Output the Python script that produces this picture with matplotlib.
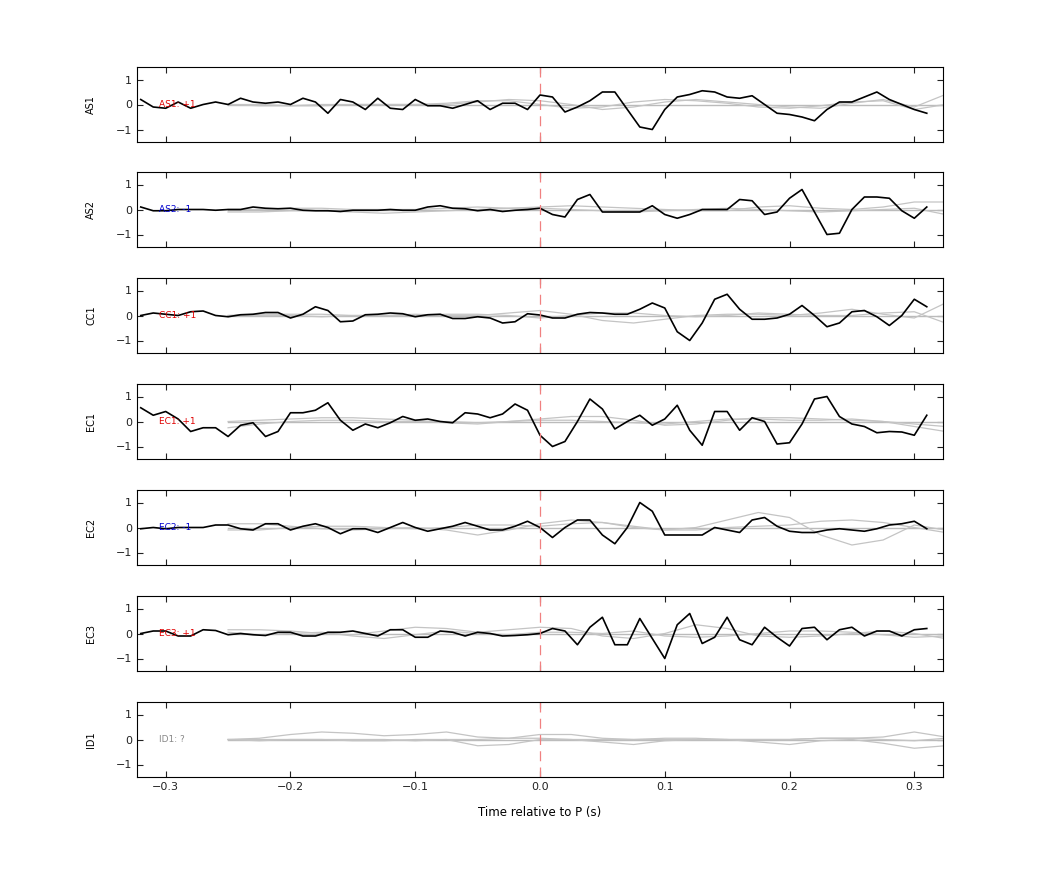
import numpy as np
import matplotlib
matplotlib.use("Agg")
import matplotlib.pyplot as plt

t = np.round(np.arange(-0.32, 0.315, 0.01), 3)
tg = np.round(np.arange(-0.25, 0.33, 0.025), 3)

stations = ["AS1", "AS2", "CC1", "EC1", "EC2", "EC3", "ID1"]
labels = ["AS1: +1", "AS2: -1", "CC1: +1", "EC1: +1", "EC2: -1", "EC3: +1", "ID1: ?"]
label_colors = ["#e00000", "#0000d0", "#e00000", "#e00000", "#0000d0", "#e00000", "#888888"]

AS1 = [0.2,-0.1,-0.15,0.1,-0.15,0.0,0.1,0.0,0.25,0.1,0.05,0.1,0.0,0.25,0.1,-0.35,0.2,0.1,-0.2,0.25,-0.15,-0.2,0.2,-0.05,-0.05,-0.15,0.0,0.15,-0.2,0.05,0.05,-0.2,
       0.38,0.3,-0.3,-0.1,0.15,0.5,0.5,-0.2,-0.9,-1.0,-0.2,0.3,0.4,0.55,0.5,0.3,0.25,0.35,0.0,-0.35,-0.4,-0.5,-0.65,-0.2,0.1,0.1,0.3,0.5,0.2,0.0,-0.2,-0.35]
AS2 = [0.1,-0.05,-0.05,0.0,0.0,0.0,-0.03,0.0,0.0,0.1,0.05,0.03,0.05,-0.03,-0.05,-0.05,-0.08,-0.03,-0.03,-0.03,0.0,-0.03,-0.03,0.1,0.15,0.05,0.03,-0.05,0.0,-0.08,-0.03,0.0,
       0.05,-0.2,-0.3,0.4,0.6,-0.1,-0.1,-0.1,-0.1,0.15,-0.2,-0.35,-0.2,0.0,0.0,0.0,0.4,0.35,-0.2,-0.1,0.45,0.8,-0.1,-1.0,-0.95,0.0,0.5,0.5,0.45,-0.05,-0.35,0.1]
CC1 = [0.0,0.1,0.05,0.0,0.15,0.18,0.0,-0.05,0.03,0.05,0.12,0.12,-0.1,0.05,0.35,0.2,-0.25,-0.22,0.03,0.05,0.1,0.07,-0.05,0.03,0.05,-0.12,-0.12,-0.05,-0.1,-0.3,-0.25,0.07,
       0.02,-0.1,-0.1,0.05,0.12,0.1,0.05,0.05,0.25,0.5,0.3,-0.65,-1.0,-0.3,0.65,0.85,0.25,-0.15,-0.15,-0.1,0.05,0.4,0.0,-0.45,-0.3,0.15,0.2,-0.05,-0.4,0.0,0.65,0.35]
EC1 = [0.55,0.25,0.4,0.1,-0.4,-0.25,-0.25,-0.6,-0.15,-0.05,-0.6,-0.4,0.35,0.35,0.45,0.75,0.05,-0.35,-0.1,-0.25,-0.05,0.2,0.05,0.1,0.0,-0.05,0.35,0.3,0.15,0.3,0.7,0.45,
       -0.55,-1.0,-0.8,0.0,0.9,0.5,-0.3,0.0,0.25,-0.15,0.1,0.65,-0.35,-0.95,0.4,0.4,-0.35,0.15,0.0,-0.9,-0.85,-0.1,0.9,1.0,0.2,-0.1,-0.2,-0.45,-0.4,-0.42,-0.55,0.25]
EC2 = [-0.05,0.0,-0.05,0.0,0.0,0.0,0.1,0.1,-0.05,-0.1,0.15,0.15,-0.1,0.05,0.15,0.0,-0.25,-0.05,-0.05,-0.2,0.0,0.2,0.0,-0.15,-0.05,0.05,0.2,0.05,-0.1,-0.1,0.05,0.25,
       0.0,-0.4,0.0,0.3,0.3,-0.3,-0.65,0.0,1.0,0.65,-0.3,-0.3,-0.3,-0.3,0.0,-0.1,-0.2,0.3,0.4,0.05,-0.15,-0.2,-0.2,-0.1,-0.05,-0.1,-0.15,-0.05,0.1,0.15,0.25,-0.05]
EC3 = [0.0,0.1,0.1,-0.1,-0.1,0.15,0.12,-0.05,0.0,-0.05,-0.08,0.05,0.05,-0.1,-0.1,0.05,0.05,0.1,0.0,-0.1,0.15,0.15,-0.15,-0.15,0.1,0.05,-0.1,0.05,0.0,-0.1,-0.08,-0.05,
       0.0,0.2,0.1,-0.45,0.25,0.65,-0.45,-0.45,0.6,-0.2,-1.0,0.35,0.8,-0.4,-0.15,0.65,-0.25,-0.45,0.25,-0.15,-0.5,0.2,0.25,-0.25,0.15,0.25,-0.1,0.1,0.1,-0.1,0.15,0.2]
black = [AS1, AS2, CC1, EC1, EC2, EC3, None]

# gray template traces (sampled every 0.025 s from -0.25 s)
G_AS1 = [[0,0,-0.05,-0.05,0,0,0,0,0.1,0.2,0.15,0,-0.2,-0.1,0.1,0.2,0.1,0,-0.1,-0.15,0.05,0.2,-0.1,0.4],
         [0,-0.05,-0.05,0,0,0,0,0.05,0.15,0.15,0,-0.15,-0.1,0.1,0.2,0.15,0.05,-0.1,-0.15,-0.05,0.1,0.15,-0.2,0.0]]
G_AS2 = [[-0.1,-0.1,-0.05,-0.05,-0.1,-0.15,-0.1,-0.05,0,0.05,0.1,0.15,0.1,0.05,0,-0.05,-0.05,0.1,0.15,0.05,0,0.1,0.3,0.3],
         [0,0,0.05,0.05,0,0,0,0.05,0.1,0.05,0.05,0,-0.05,-0.1,-0.05,0,0.05,0,-0.05,-0.1,-0.05,0,0.05,-0.2]]
G_CC1 = [[0,0.05,0.05,0.05,0,0,0.05,0,0,0.1,0.2,0.05,-0.2,-0.3,-0.15,0,0.05,0.05,0,0.1,0.25,0.05,-0.1,0.5],
         [0,0,0,-0.05,0,0,0,0.05,0.05,0,-0.1,0,0.1,0.1,0,-0.05,0,0.1,0.05,0,0,0.1,0.15,-0.3]]
G_EC1 = [[0,0.05,0.1,0.15,0.15,0.1,0.05,-0.05,-0.1,0,0.1,0.2,0.2,0.05,-0.15,-0.1,0.05,0.15,0.15,0.1,0.05,0,-0.2,-0.4],
         [-0.25,-0.1,0,0.05,0.05,0,0,0,-0.05,0,0.05,0.05,0,-0.05,-0.1,0,0.1,0.1,0.05,0.05,0.1,0,-0.1,-0.2]]
G_EC2 = [[0.15,0.15,0.05,-0.05,-0.1,-0.05,0,-0.1,-0.3,-0.1,0.15,0.3,0.2,0.05,-0.1,0,0.3,0.6,0.4,-0.3,-0.7,-0.5,0.1,-0.1],
         [-0.1,-0.1,0,0.05,0.05,0,-0.05,0,0.1,0.1,0.05,0.15,0.2,0,-0.1,-0.1,0,0.05,0.1,0.25,0.3,0.2,0,-0.2]]
G_EC3 = [[0.15,0.15,0.1,0,-0.05,0.1,0.25,0.2,0.05,0.15,0.25,0.2,-0.1,-0.2,0,0.35,0.2,-0.1,-0.15,-0.1,0,0.1,0,-0.2],
         [0.05,-0.05,0,0.05,-0.1,-0.2,-0.05,0.1,0,-0.05,0.05,0.05,0,0.1,-0.1,-0.15,-0.1,0,0.1,0.1,0.05,-0.05,-0.15,-0.1]]
G_ID1 = [[0,0.05,0.2,0.3,0.25,0.15,0.2,0.3,0.1,0.05,0.2,0.2,0.05,0,0.05,0.05,0,0,0,0.05,0.05,0.1,0.3,0.1],
         [0,-0.05,0,0,0,0,-0.05,0,-0.25,-0.2,0,0,-0.1,-0.2,-0.05,0,0,-0.1,-0.2,-0.05,0,-0.15,-0.35,-0.25],
         [0,0,0,0,-0.05,-0.05,0,0,0,0.05,0.05,0,0,0,0,0,0,0,0,0.05,0.05,0,-0.05,0.05]]
grays = [G_AS1, G_AS2, G_CC1, G_EC1, G_EC2, G_EC3, G_ID1]

fig = plt.figure(figsize=(10.42, 8.75), dpi=100)
W, H = 1042, 875
tops = [67, 172, 278, 384, 490, 596, 702]
for i, st in enumerate(stations):
    ax = fig.add_axes([137 / W, 1 - (tops[i] + 75) / H, 806 / W, 75 / H])
    ax.plot(tg, np.zeros_like(tg), color="#bbbbbb", lw=1)
    for g in grays[i]:
        ax.plot(tg, g, color="#c4c4c4", lw=0.9)
    if black[i] is not None:
        ax.plot(t, black[i], color="black", lw=1.2)
    ax.axvline(0, color="#f08080", lw=0.9, ls=(0, (8, 5)))
    ax.text(-0.305, 0, labels[i], color=label_colors[i], fontsize=6.5, va="center")
    ax.set_xlim(-0.323, 0.323)
    ax.set_ylim(-1.5, 1.5)
    ax.set_yticks([-1, 0, 1])
    ax.set_xticks([-0.3, -0.2, -0.1, 0, 0.1, 0.2, 0.3])
    ax.tick_params(direction="in", top=True, right=True, labelsize=8, length=4, colors="#222222")
    ax.tick_params(axis="x", labelbottom=(i == 6))
    ax.set_ylabel(st, fontsize=7, labelpad=14)
    for s in ax.spines.values():
        s.set_linewidth(0.8)
    if i == 6:
        ax.set_xlabel("Time relative to P (s)", fontsize=8.5, labelpad=10)
fig.savefig("out.png", dpi=100)
